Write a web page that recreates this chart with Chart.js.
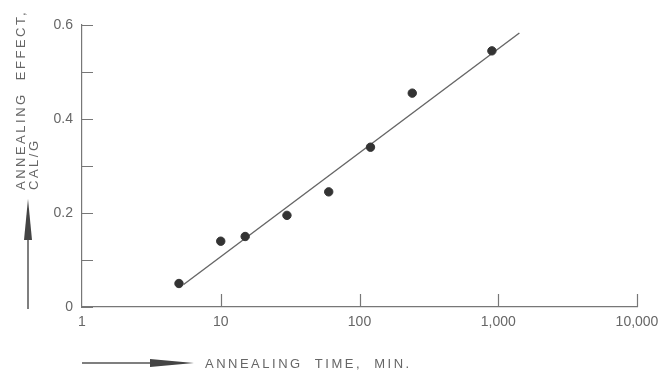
<!DOCTYPE html>
<html>
<head>
<meta charset="utf-8">
<script src="https://cdn.jsdelivr.net/npm/chart.js@4"></script>
<style>
  html, body { margin: 0; padding: 0; background: #fff; }
  #wrap { width: 667px; height: 371px; position: relative; }
</style>
</head>
<body>
<div id="wrap"><canvas id="annealChart"></canvas></div>
<script>
// measured points: annealing time (min) vs annealing effect (cal/g)
const times = [5, 10, 15, 30, 60, 120, 240, 900];
const effects = [0.05, 0.14, 0.15, 0.195, 0.245, 0.34, 0.455, 0.545];

// straight fitted line (ends)
const fitTimes = [5.4, 1420];
const fitEffects = [0.048, 0.583];

const xTicks = [1, 10, 100, 1000, 10000];
const xTickLabels = ['1', '10', '100', '1,000', '10,000'];
const yTicks = [0, 0.1, 0.2, 0.3, 0.4, 0.5, 0.6];
const yTickLabels = ['0', '', '0.2', '', '0.4', '', '0.6'];

const ink = '#666';
const font = '"Liberation Sans", Arial, sans-serif';

// inward tick marks + the two arrow axis titles
const decorations = {
  id: 'decorations',
  afterDraw(chart) {
    const { ctx, scales } = chart;
    const xs = scales.x, ys = scales.y;
    const left = xs.left, bottom = ys.bottom;
    ctx.save();
    ctx.strokeStyle = '#777';
    ctx.lineWidth = 1.2;
    ctx.beginPath();
    yTicks.forEach((v) => {
      const py = Math.round(ys.getPixelForValue(v)) + 0.5;
      ctx.moveTo(left, py);
      ctx.lineTo(left + 11, py);
    });
    xTicks.slice(1).forEach((v) => {
      const px = Math.round(xs.getPixelForValue(v)) + 0.5;
      ctx.moveTo(px, bottom);
      ctx.lineTo(px, bottom - 13);
    });
    ctx.stroke();

    ctx.strokeStyle = '#555';
    ctx.fillStyle = '#444';
    ctx.lineWidth = 1.5;

    // y title arrow
    ctx.beginPath();
    ctx.moveTo(28, 309);
    ctx.lineTo(28, 235);
    ctx.stroke();
    ctx.beginPath();
    ctx.moveTo(28, 199);
    ctx.lineTo(32, 240);
    ctx.lineTo(24, 240);
    ctx.closePath();
    ctx.fill();

    // x title arrow
    ctx.beginPath();
    ctx.moveTo(82, 363);
    ctx.lineTo(155, 363);
    ctx.stroke();
    ctx.beginPath();
    ctx.moveTo(194, 363);
    ctx.lineTo(150, 359);
    ctx.lineTo(150, 367);
    ctx.closePath();
    ctx.fill();

    ctx.fillStyle = ink;
    ctx.font = '13px ' + font;
    ctx.letterSpacing = '2.5px';
    ctx.textBaseline = 'middle';
    ctx.textAlign = 'left';
    ctx.fillText('ANNEALING  TIME,  MIN.', 205, 364);

    ctx.save();
    ctx.translate(21, 190);
    ctx.rotate(-Math.PI / 2);
    ctx.fillText('ANNEALING  EFFECT,', 0, 0);
    ctx.restore();
    ctx.save();
    ctx.translate(34, 190);
    ctx.rotate(-Math.PI / 2);
    ctx.fillText('CAL/G', 0, 0);
    ctx.restore();

    ctx.restore();
  }
};

new Chart(document.getElementById('annealChart'), {
  type: 'scatter',
  data: {
    datasets: [
      {
        label: 'Measured',
        data: times.map((t, i) => ({ x: t, y: effects[i] })),
        backgroundColor: '#333',
        borderColor: '#333',
        pointRadius: 4.2,
        pointHoverRadius: 4.2,
      },
      {
        label: 'Fit',
        data: fitTimes.map((t, i) => ({ x: t, y: fitEffects[i] })),
        showLine: true,
        borderColor: '#666',
        borderWidth: 1.4,
        pointRadius: 0,
        fill: false,
      },
    ],
  },
  options: {
    responsive: true,
    maintainAspectRatio: false,
    animation: false,
    layout: { padding: { left: 32, right: 30, top: 25, bottom: 0 } },
    plugins: {
      legend: { display: false },
      tooltip: { enabled: false },
    },
    scales: {
      x: {
        type: 'logarithmic',
        min: 1,
        max: 10000,
        afterBuildTicks: (scale) => {
          scale.ticks = xTicks.map((v) => ({ value: v }));
        },
        afterFit: (scale) => { scale.height = 64; },
        grid: { display: false, drawTicks: false },
        border: { display: true, color: '#777', width: 1.2 },
        ticks: {
          autoSkip: false,
          maxRotation: 0,
          padding: 7,
          color: ink,
          font: { family: font, size: 14 },
          callback: (v) => {
            const i = xTicks.indexOf(v);
            return i >= 0 ? xTickLabels[i] : '';
          },
        },
      },
      y: {
        type: 'linear',
        min: 0,
        max: 0.6,
        afterBuildTicks: (scale) => {
          scale.ticks = yTicks.map((v) => ({ value: v }));
        },
        afterFit: (scale) => { scale.width = 50; },
        grid: { display: false, drawTicks: false },
        border: { display: true, color: '#777', width: 1.2 },
        ticks: {
          autoSkip: false,
          padding: 9,
          color: ink,
          font: { family: font, size: 14 },
          callback: (v) => {
            const i = yTicks.findIndex((t) => Math.abs(t - v) < 1e-9);
            return i >= 0 ? yTickLabels[i] : '';
          },
        },
      },
    },
  },
  plugins: [decorations],
});
</script>
</body>
</html>
